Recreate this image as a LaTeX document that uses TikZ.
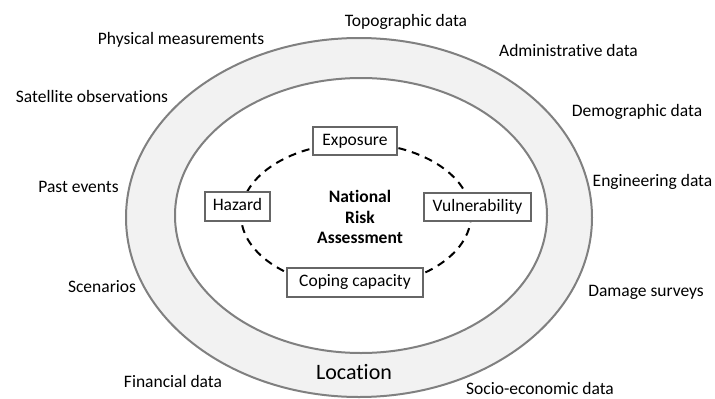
\documentclass[tikz,border=0pt]{standalone}
\usepackage{fontspec}
\setmainfont{Carlito}[Ligatures=NoCommon]
\begin{document}
\begin{tikzpicture}[x=1pt,y=-1pt,
  lbl/.style={font=\fontsize{17.5}{20}\selectfont, text height=11.5pt, text depth=3.5pt, inner sep=0pt},
  factor/.style={draw=black!60, line width=1.2pt, fill=white, inner sep=0pt,
    font=\fontsize{17.5}{20}\selectfont, text height=11.5pt, text depth=3.5pt},
  ring/.style={draw=black!50, line width=2pt},
  cycle/.style={draw=black, line width=2pt, dash pattern=on 8pt off 6pt}]
\useasboundingbox (0,0) rectangle (715,399);
% rings
\path[ring, fill=black!5] (359,217.5) ellipse [x radius=233pt, y radius=179.5pt];
\path[ring, fill=white] (361,215.5) ellipse [x radius=186pt, y radius=137.5pt];
% dashed cycle
\path[cycle] (356,215) ellipse [x radius=115pt, y radius=72pt];
% factor boxes
\node[factor, minimum width=84pt, minimum height=28pt] (exp) at (355,141) {Exposure};
\node[factor, minimum width=65pt, minimum height=29pt] (haz) at (237.5,206.5) {Hazard};
\node[factor, minimum width=107pt, minimum height=28pt] (vul) at (477.5,207) {Vulnerability};
\node[factor, minimum width=136pt, minimum height=29pt] (cop) at (355,282.5) {Coping capacity};
% centre
\node[font=\fontsize{17.5}{20.5}\selectfont\bfseries, align=center, inner sep=0pt] (nra) at (360,217) {National\\Risk\\Assessment};
% location
\node[lbl, font=\fontsize{22}{26}\selectfont, text height=14pt, text depth=4pt] (loc) at (354,374) {Location};
% data sources
\node[lbl] (topo) at (406,22) {Topographic data};
\node[lbl] (phys) at (181,40) {Physical measurements};
\node[lbl] (admin) at (568.5,52) {Administrative data};
\node[lbl] (sat) at (92,98) {Satellite observations};
\node[lbl] (demo) at (637,112) {Demographic data};
\node[lbl] (past) at (78.5,188) {Past events};
\node[lbl] (eng) at (652.5,182) {Engineering data};
\node[lbl] (scen) at (102,288) {Scenarios};
\node[lbl] (dam) at (646,292) {Damage surveys};
\node[lbl] (fin) at (173,383) {Financial data};
\node[lbl] (socio) at (540,390) {Socio-economic data};
\end{tikzpicture}
\end{document}
